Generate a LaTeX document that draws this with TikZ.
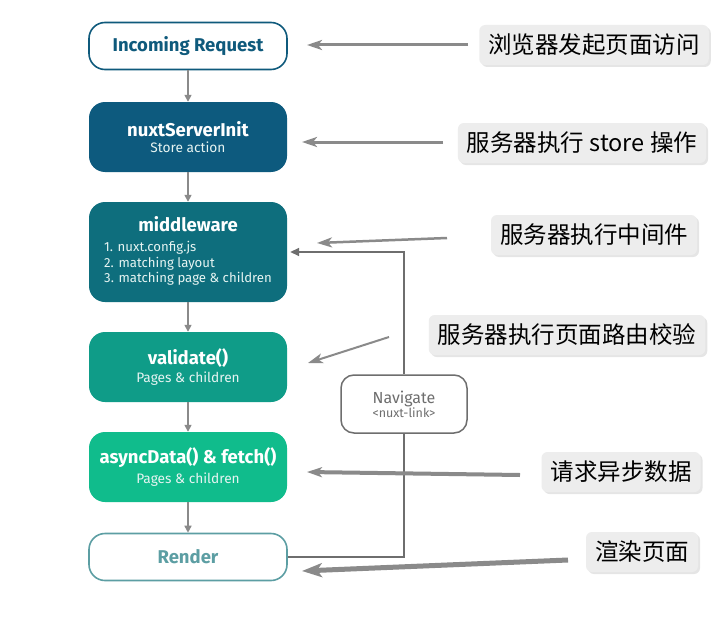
\documentclass[tikz,border=0pt]{standalone}
\usepackage{fontspec}
\setmainfont{Fira Sans}
\newfontfamily\cjk{Noto Sans CJK SC}
\usetikzlibrary{arrows.meta,shadows}
\definecolor{incB}{HTML}{0F5A7C}
\definecolor{nsiC}{HTML}{0D5A7E}
\definecolor{mwC}{HTML}{0E6E7D}
\definecolor{valC}{HTML}{0F9C88}
\definecolor{adC}{HTML}{10BC8C}
\definecolor{renC}{HTML}{5C9EA3}
\definecolor{arrG}{HTML}{8A8A8A}
\definecolor{navG}{HTML}{6E6E6E}
\definecolor{annF}{HTML}{EDEDED}
\definecolor{subW}{HTML}{E6F4F2}
\newcommand{\titlef}{\bfseries\fontsize{18.5}{21}\selectfont}
\newcommand{\subf}{\fontsize{13.7}{16}\selectfont}
\newcommand{\listf}{\fontsize{13.2}{16}\selectfont}
\tikzset{
  flowbox/.style={rounded corners=16pt, minimum width=198pt, align=center, inner sep=0pt},
  filledbox/.style={flowbox, fill=#1, text=white},
  openbox/.style={flowbox, draw=#1, line width=1.6pt, fill=white, text=#1, minimum height=47pt, font=\titlef},
  flowarrow/.style={draw=arrG, line width=1.5pt, -{Triangle[length=7pt,width=7pt]}},
  navbox/.style={draw=navG, line width=1.5pt, rounded corners=13pt, minimum width=126pt, minimum height=58pt, align=center, fill=white, text=navG, inner sep=0pt},
  annbox/.style={fill=annF, rounded corners=6pt, minimum height=40pt, inner xsep=9pt, inner ysep=0pt, font=\cjk\fontsize{23.5}{25}\selectfont, drop shadow={shadow xshift=2pt, shadow yshift=-2pt, opacity=0.2, fill=gray}},
  annarrow/.style={draw=arrG, line width=#1, -{Stealth[length=15pt,width=10pt,inset=4pt]}},
}
\begin{document}
\begin{tikzpicture}[x=1pt,y=-1pt]
\useasboundingbox (0,0) rectangle (720,626);
\fill[white] (0,0) rectangle (720,626);

% flow boxes
\node[openbox=incB] (inc) at (188,46) {Incoming Request};
\node[filledbox=nsiC, minimum height=70pt] (nsi) at (188,137)
  {{\titlef nuxtServerInit}\\[4pt]{\subf\color{subW}Store action}};
\node[filledbox=mwC, minimum height=100pt] (mw) at (188,252)
  {{\titlef middleware}\\[8pt]{\listf\color{subW}\begin{tabular}{@{}l@{}}1. nuxt.config.js\\[-0.5pt]2. matching layout\\[-0.5pt]3. matching page \& children\end{tabular}}};
\node[filledbox=valC, minimum height=70pt] (val) at (188,367)
  {{\titlef validate()}\\[3pt]{\subf\color{subW}Pages \& children}};
\node[filledbox=adC, minimum height=70pt] (ad) at (188,467)
  {{\titlef asyncData() \& fetch()}\\[4pt]{\subf\color{subW}Pages \& children}};
\node[openbox=renC] (ren) at (188,557) {Render};

% flow arrows
\draw[flowarrow] (inc) -- (nsi);
\draw[flowarrow] (nsi) -- (mw);
\draw[flowarrow] (mw) -- (val);
\draw[flowarrow] (val) -- (ad);
\draw[flowarrow] (ad) -- (ren);

% navigate loop
\node[navbox] (nav) at (404,404)
  {{\fontsize{16}{19}\selectfont Navigate}\\[0pt]{\fontsize{12.5}{15}\selectfont <nuxt-link>}};
\draw[draw=navG, line width=1.6pt] (ren.east) -| (nav.south);
\draw[draw=navG, line width=1.6pt, -{Triangle[length=9pt,width=8pt]}, shorten >=3pt] (nav.north) |- (mw.east);

% annotations
\node[annbox] (a1) at (594,45) {浏览器发起页面访问};
\node[annbox] (a2) at (582,143) {服务器执行 store 操作};
\node[annbox] (a3) at (594,235) {服务器执行中间件};
\node[annbox] (a4) at (567,335) {服务器执行页面路由校验};
\node[annbox] (a5) at (621,472) {请求异步数据};
\node[annbox] (a6) at (642,552) {渲染页面};

\coordinate (s1) at (468,45);  \coordinate (e1) at (307,45);
\coordinate (s2) at (443,142); \coordinate (e2) at (302,142);
\coordinate (s3) at (447,238); \coordinate (e3) at (317,243);
\coordinate (s4) at (389,337); \coordinate (e4) at (308,363);
\coordinate (s5) at (520,475); \coordinate (e5) at (307,472);
\coordinate (s6) at (568,560); \coordinate (e6) at (302,571);

\draw[annarrow=3pt] (s1) -- (e1);
\draw[annarrow=3pt] (s2) -- (e2);
\draw[annarrow=2.5pt] (s3) -- (e3);
\draw[annarrow=2pt] (s4) -- (e4);
\draw[annarrow=4pt] (s5) -- (e5);
\draw[draw=arrG, line width=5pt, -{Stealth[length=20pt,width=14pt,inset=5pt]}] (s6) -- (e6);
\end{tikzpicture}
\end{document}
